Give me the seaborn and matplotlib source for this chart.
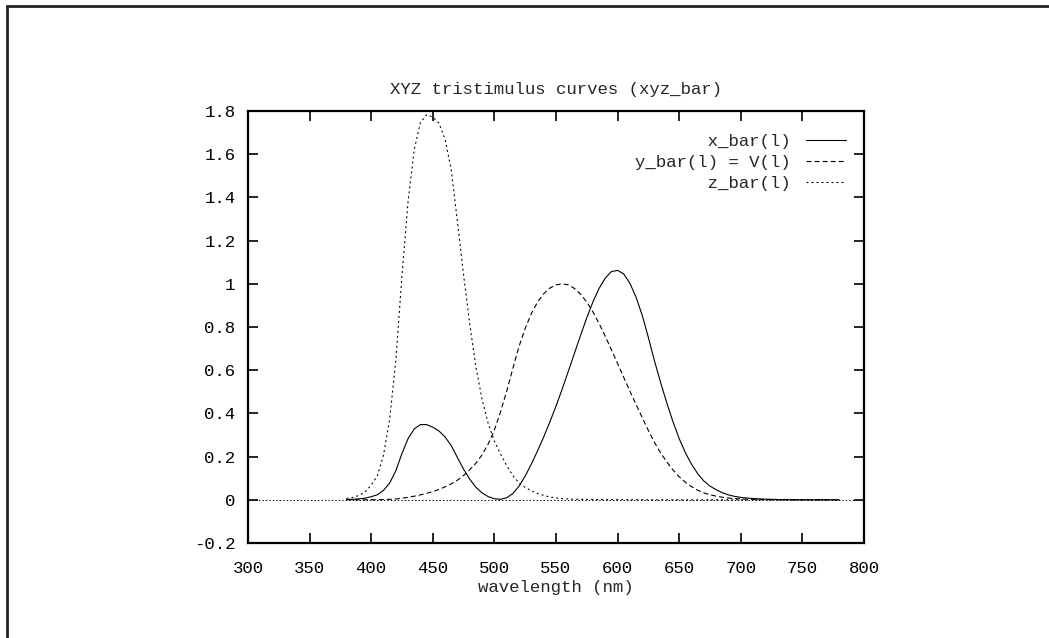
"""XYZ tristimulus curves (gnuplot look) with seaborn"""
import matplotlib
matplotlib.use("Agg")
import matplotlib.pyplot as plt
import matplotlib.ticker as mticker
from matplotlib.lines import Line2D
import pandas as pd
import seaborn as sns

# CIE 1931 colour matching functions, 5 nm steps (380..780)
wavelength = list(range(380, 785, 5))
x_bar = [0.001368, 0.002236, 0.004243, 0.007650, 0.014310, 0.023190, 0.043510,
         0.077630, 0.134380, 0.214770, 0.283900, 0.328500, 0.348280, 0.348060,
         0.336200, 0.318700, 0.290800, 0.251100, 0.195360, 0.142100, 0.095640,
         0.057950, 0.032010, 0.014700, 0.004900, 0.002400, 0.009300, 0.029100,
         0.063270, 0.109600, 0.165500, 0.225750, 0.290400, 0.359700, 0.433450,
         0.512050, 0.594500, 0.678400, 0.762100, 0.842500, 0.916300, 0.978600,
         1.026300, 1.056700, 1.062200, 1.045600, 1.002600, 0.938400, 0.854450,
         0.751400, 0.642400, 0.541900, 0.447900, 0.360800, 0.283500, 0.218700,
         0.164900, 0.121200, 0.087400, 0.063600, 0.046770, 0.032900, 0.022700,
         0.015840, 0.011359, 0.008111, 0.005790, 0.004109, 0.002899, 0.002049,
         0.001440, 0.001000, 0.000690, 0.000476, 0.000332, 0.000235, 0.000166,
         0.000117, 0.000083, 0.000059, 0.000042]
y_bar = [0.000039, 0.000064, 0.000120, 0.000217, 0.000396, 0.000640, 0.001210,
         0.002180, 0.004000, 0.007300, 0.011600, 0.016840, 0.023000, 0.029800,
         0.038000, 0.048000, 0.060000, 0.073900, 0.090980, 0.112600, 0.139020,
         0.169300, 0.208020, 0.258600, 0.323000, 0.407300, 0.503000, 0.608200,
         0.710000, 0.793200, 0.862000, 0.914850, 0.954000, 0.980300, 0.994950,
         1.000000, 0.995000, 0.978600, 0.952000, 0.915400, 0.870000, 0.816300,
         0.757000, 0.694900, 0.631000, 0.566800, 0.503000, 0.441200, 0.381000,
         0.321000, 0.265000, 0.217000, 0.175000, 0.138200, 0.107000, 0.081600,
         0.061000, 0.044580, 0.032000, 0.023200, 0.017000, 0.011920, 0.008210,
         0.005723, 0.004102, 0.002929, 0.002091, 0.001484, 0.001047, 0.000740,
         0.000520, 0.000361, 0.000249, 0.000172, 0.000120, 0.000085, 0.000060,
         0.000042, 0.000030, 0.000021, 0.000015]
z_bar = [0.006450, 0.010550, 0.020050, 0.036210, 0.067850, 0.110200, 0.207400,
         0.371300, 0.645600, 1.039050, 1.385600, 1.622960, 1.747060, 1.782600,
         1.772110, 1.744100, 1.669200, 1.528100, 1.287640, 1.041900, 0.812950,
         0.616200, 0.465180, 0.353300, 0.272000, 0.212300, 0.158200, 0.111700,
         0.078250, 0.057250, 0.042160, 0.029840, 0.020300, 0.013400, 0.008750,
         0.005750, 0.003900, 0.002750, 0.002100, 0.001800, 0.001650, 0.001400,
         0.001100, 0.001000, 0.000800, 0.000600, 0.000340, 0.000240, 0.000190,
         0.000100, 0.000050, 0.000030, 0.000020, 0.000010, 0.0, 0.0,
         0.0, 0.0, 0.0, 0.0, 0.0, 0.0, 0.0, 0.0, 0.0, 0.0, 0.0, 0.0, 0.0, 0.0,
         0.0, 0.0, 0.0, 0.0, 0.0, 0.0, 0.0, 0.0, 0.0, 0.0, 0.0]

labels = ["x_bar(l)", "y_bar(l) = V(l)", "z_bar(l)"]
x_ticks = [300, 350, 400, 450, 500, 550, 600, 650, 700, 750, 800]
y_ticks = [-0.2, 0, 0.2, 0.4, 0.6, 0.8, 1, 1.2, 1.4, 1.6, 1.8]

df = pd.DataFrame({"wl": wavelength, "x": x_bar, "y": y_bar, "z": z_bar})

sns.set_style("ticks")
plt.rcParams["font.family"] = ["Liberation Mono", "DejaVu Sans Mono"]
plt.rcParams["axes.unicode_minus"] = False
plt.rcParams["lines.scale_dashes"] = False

fig = plt.figure(figsize=(10.49, 6.38), dpi=100)
ax = fig.add_axes([0.2364, 0.1489, 0.5872, 0.6771])

# gnuplot style zero axis
ax.axhline(0, color="black", lw=0.7, linestyle=(0, (1, 1.5)), zorder=1)

width = max(len(s) for s in labels)
styles = ["-", (0, (3.6, 2.2)), (0, (1.4, 2.2))]
for col, lab, ls in zip(["x", "y", "z"], labels, styles):
    sns.lineplot(data=df, x="wl", y=col, ax=ax, color="black", lw=0.8,
                 linestyle=ls, label=lab.rjust(width))

ax.set_xlim(300, 800)
ax.set_ylim(-0.2, 1.8)
ax.set_xticks(x_ticks)
ax.set_yticks(y_ticks)
ax.xaxis.set_major_formatter(mticker.FuncFormatter(lambda v, p: "%g" % v))
ax.yaxis.set_major_formatter(mticker.FuncFormatter(lambda v, p: "%g" % round(v, 2)))
ax.tick_params(direction="in", length=7, width=1.2, top=True, right=True,
               labelsize=12.5, colors="black")
ax.tick_params(axis="x", pad=13)
ax.tick_params(axis="y", pad=9)
for s in ax.spines.values():
    s.set_linewidth(1.6)
    s.set_color("black")

ax.set_xlabel("wavelength (nm)", fontsize=12.5, labelpad=3)
ax.set_ylabel("")
ax.set_title("XYZ tristimulus curves (xyz_bar)", fontsize=12.5, pad=12)

leg = ax.legend(loc="upper right", bbox_to_anchor=(1.0, 0.99), frameon=False,
                markerfirst=False, fontsize=12.5, handlelength=2.3,
                handletextpad=0.85, labelspacing=0.35, borderaxespad=0.65)

# page border on the left and top
fig.add_artist(Line2D([7 / 1049, 7 / 1049], [0, 1 - 6 / 638],
                      transform=fig.transFigure, color="#222222", lw=2))
fig.add_artist(Line2D([7 / 1049, 1], [1 - 6 / 638, 1 - 6 / 638],
                      transform=fig.transFigure, color="#222222", lw=2))

fig.savefig("out.png", dpi=100)
